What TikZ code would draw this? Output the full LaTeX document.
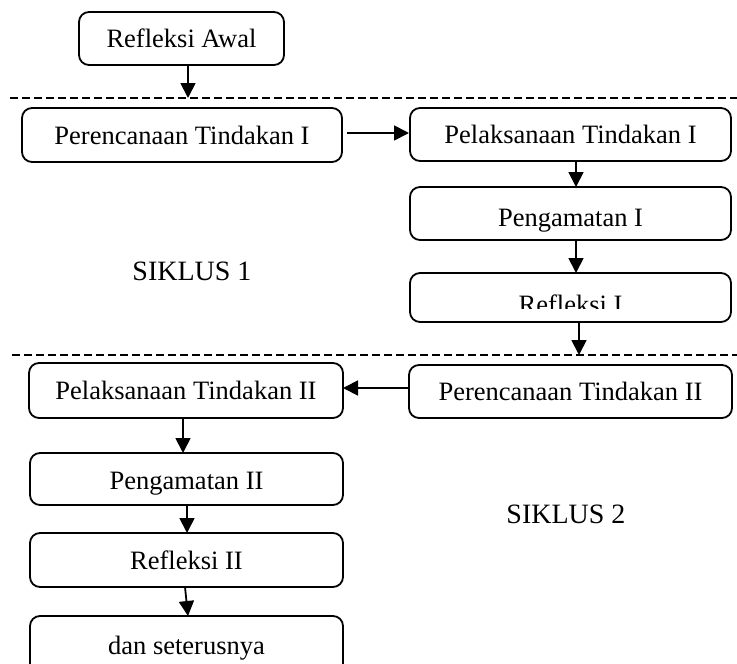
\documentclass[tikz,border=0pt]{standalone}
\usepackage{fontspec}
\setmainfont{Liberation Serif}
\usetikzlibrary{arrows.meta}
\tikzset{
  box/.style={draw, line width=1.8pt, rounded corners=10pt, inner sep=0pt},
  lbl/.style={font=\fontsize{26.5}{30}\selectfont, inner sep=0pt},
  big/.style={font=\fontsize{28}{32}\selectfont, inner sep=0pt},
  arr/.style={line width=1.8pt, -{Triangle[length=15pt,width=15pt]}},
  sep/.style={line width=1.5pt, dash pattern=on 8pt off 4pt},
}
\begin{document}
\begin{tikzpicture}[x=1pt,y=-1pt]
\useasboundingbox (0,0) rectangle (737,664);
\clip (0,0) rectangle (737,664);
% separators
\coordinate (s1l) at (10,98); \coordinate (s1r) at (737,98);
\coordinate (s2l) at (12,355); \coordinate (s2r) at (737,355);
\draw[sep] (s1l) -- (s1r);
\draw[sep] (s2l) -- (s2r);
% boxes
\node[box, minimum width=205pt, minimum height=53pt, lbl] (A) at (181.5,38.5) {Refleksi Awal};
\node[box, minimum width=320pt, minimum height=54pt, lbl] (B) at (182,135) {Perencanaan Tindakan I};
\node[box, minimum width=321pt, minimum height=53pt, lbl] (C) at (570.5,134.5) {Pelaksanaan Tindakan I};
\node[box, minimum width=321pt, minimum height=53pt] (D) at (570.5,213.5) {};
\node[box, minimum width=321pt, minimum height=49pt] (E) at (570.5,297.5) {};
\node[box, minimum width=323pt, minimum height=53pt, lbl] (F) at (570.5,391.5) {Perencanaan Tindakan II};
\node[box, minimum width=314pt, minimum height=55pt, lbl] (G) at (186,390.5) {Pelaksanaan Tindakan II};
\node[box, minimum width=313pt, minimum height=52pt] (H) at (186.5,479) {};
\node[box, minimum width=313pt, minimum height=54pt, lbl] (I) at (186.5,560) {Refleksi II};
\node[box, minimum width=313pt, minimum height=64pt] (J) at (186.5,648) {};
% clipped labels
\begin{scope}
\clip (410,187) rectangle (731,231);
\node[lbl, anchor=base] (Dt) at (570.5,226) {Pengamatan I};
\end{scope}
\begin{scope}
\clip (410,273) rectangle (731,308);
\node[lbl, anchor=base] (Et) at (570.5,313) {Refleksi I};
\end{scope}
\begin{scope}
\clip (30,453) rectangle (343,494);
\node[lbl, anchor=base] (Ht) at (186.5,489) {Pengamatan II};
\end{scope}
\begin{scope}
\clip (30,616) rectangle (343,660);
\node[lbl, anchor=base] (Jt) at (186.5,654) {dan seterusnya};
\end{scope}
% cycle labels
\node[big] (S1) at (192,271) {SIKLUS 1};
\node[big] (S2) at (566,514) {SIKLUS 2};
% arrows
\coordinate (a1) at (188,65); \coordinate (a2) at (188,98);
\draw[arr] (a1) -- (a2);
\coordinate (b1) at (347,133); \coordinate (b2) at (409,133);
\draw[arr] (b1) -- (b2);
\coordinate (c1) at (576,161); \coordinate (c2) at (576,187);
\draw[arr] (c1) -- (c2);
\coordinate (d1) at (576,240); \coordinate (d2) at (576,273);
\draw[arr] (d1) -- (d2);
\coordinate (e1) at (579,322); \coordinate (e2) at (579,355);
\draw[arr] (e1) -- (e2);
\coordinate (f1) at (409,388); \coordinate (f2) at (343,388);
\draw[arr] (f1) -- (f2);
\coordinate (g1) at (183,418); \coordinate (g2) at (183,453);
\draw[arr] (g1) -- (g2);
\coordinate (h1) at (187,505); \coordinate (h2) at (187,533);
\draw[arr] (h1) -- (h2);
\coordinate (i1) at (185,587); \coordinate (i2) at (188,616);
\draw[arr] (i1) -- (i2);
\end{tikzpicture}
\end{document}
